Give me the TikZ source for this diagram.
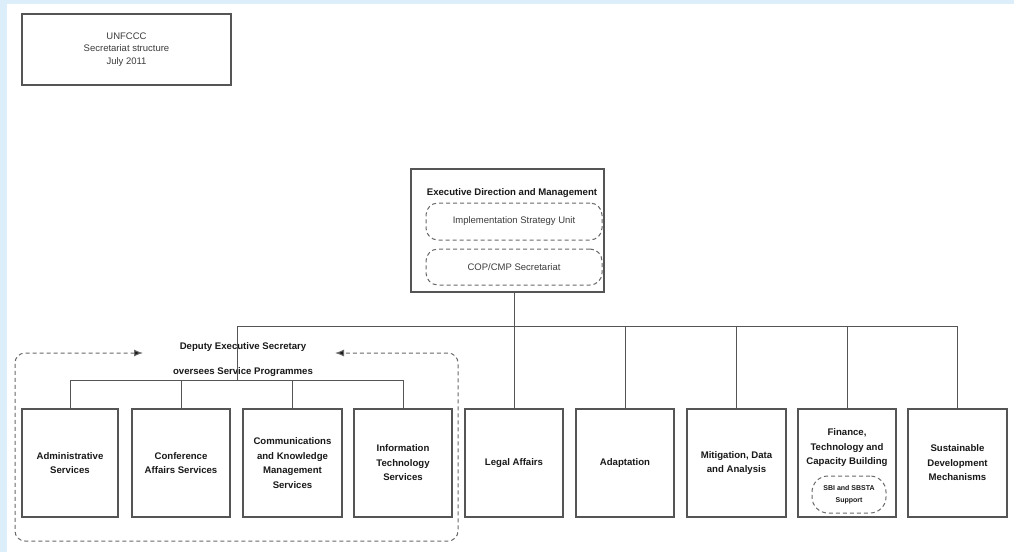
\documentclass[tikz,border=0pt]{standalone}
\usepackage{fontspec}
\setmainfont{Liberation Sans}
\usetikzlibrary{arrows.meta}
\definecolor{bgblue}{RGB}{219,238,250}
\definecolor{linec}{RGB}{85,85,85}
\definecolor{dashc}{RGB}{105,105,105}
\definecolor{txtc}{RGB}{25,25,25}
\definecolor{softtxt}{RGB}{60,60,60}
\tikzset{
  unitbox/.style={draw=linec, line width=1.3pt, fill=white, minimum height=108pt, inner sep=2pt,
    align=center, text=txtc, font=\fontsize{9.6}{14.5}\selectfont\bfseries},
  dashbox/.style={draw=dashc, line width=1pt, dash pattern=on 4pt off 3pt, rounded corners=12pt,
    align=center, text=softtxt, font=\fontsize{9.5}{12}\selectfont},
  conn/.style={draw=linec, line width=1pt},
  boldlabel/.style={text=txtc, font=\fontsize{9.6}{12}\selectfont\bfseries, inner sep=0pt}
}
\begin{document}
\begin{tikzpicture}[x=1pt,y=-1pt]
\useasboundingbox (0,0) rectangle (1014,552);
\fill[white] (0,0) rectangle (1014,552);
\fill[bgblue] (0,0) rectangle (7,552);
\fill[bgblue] (0,0) rectangle (1014,4);

% title box
\node[draw=linec, line width=1.3pt, minimum width=209pt, minimum height=71pt, align=center,
  text=softtxt, font=\fontsize{9.5}{12.5}\selectfont] (title) at (126.5,49.5)
  {UNFCCC\\Secretariat structure\\July 2011};

% executive box
\node[draw=linec, line width=1.3pt, minimum width=193pt, minimum height=123pt] (exec) at (507.5,230.5) {};
\node[boldlabel] (exectitle) at (512,193) {Executive Direction and Management};
\node[dashbox, minimum width=176pt, minimum height=37pt] (isu) at (514,221.5) {Implementation Strategy Unit};
\node[dashbox, minimum width=176pt, minimum height=36pt] (cop) at (514,267) {COP/CMP Secretariat};

% right units
\node[unitbox, minimum width=98pt] (legal) at (514,463) {Legal Affairs};
\node[unitbox, minimum width=98pt] (adapt) at (625,463) {Adaptation};
\node[unitbox, minimum width=99pt] (mitig) at (736.5,463) {Mitigation, Data\\and Analysis};
\node[unitbox, minimum width=98pt] (fin) at (847,463) {};
\node[boldlabel, align=center, font=\fontsize{9.6}{14.5}\selectfont\bfseries] (fintext) at (847,448) {Finance,\\Technology and\\Capacity Building};
\node[dashbox, minimum width=74pt, minimum height=37pt, rounded corners=16pt, text=txtc,
  font=\fontsize{7}{11.5}\selectfont\bfseries] (sbi) at (849,494.5) {SBI and SBSTA\\Support};
\node[unitbox, minimum width=99pt] (sdm) at (957.5,463) {Sustainable\\Development\\Mechanisms};

% service units
\node[unitbox, minimum width=96pt] (admin) at (70,463) {Administrative\\Services};
\node[unitbox, minimum width=98pt] (conf) at (181,463) {Conference\\Affairs Services};
\node[unitbox, minimum width=99pt] (comm) at (292.5,463) {Communications\\and Knowledge\\Management\\Services};
\node[unitbox, minimum width=98pt] (it) at (403,463) {Information\\Technology\\Services};

% deputy label
\node[boldlabel] (dep1) at (243,347) {Deputy Executive Secretary};
\node[boldlabel] (dep2) at (243,372) {oversees Service Programmes};

% bus coordinates
\coordinate (busL) at (237,326);
\coordinate (subL) at (237,380);

% connectors
\draw[conn] (legal.north |- exec.south) -- (legal.north |- busL);
\draw[conn] (busL) -- (sdm.north |- busL);
\draw[conn] (legal.north) -- (legal.north |- busL);
\draw[conn] (adapt.north) -- (adapt.north |- busL);
\draw[conn] (mitig.north) -- (mitig.north |- busL);
\draw[conn] (fin.north) -- (fin.north |- busL);
\draw[conn] (sdm.north) -- (sdm.north |- busL);
\draw[conn] (busL) -- (subL);
\draw[conn] (admin.north |- subL) -- (it.north |- subL);
\draw[conn] (admin.north) -- (admin.north |- subL);
\draw[conn] (conf.north) -- (conf.north |- subL);
\draw[conn] (comm.north) -- (comm.north |- subL);
\draw[conn] (it.north) -- (it.north |- subL);

% service programmes dashed frame
\coordinate (arrL) at (143,353);
\coordinate (arrR) at (335,353);
\draw[draw=dashc, line width=1pt, dash pattern=on 4pt off 3pt, rounded corners=10pt,
  {Latex[length=9pt,width=7pt,fill=txtc]}-{Latex[length=9pt,width=7pt,fill=txtc]}]
  (arrL) -- (15,353) -- (15,541) -- (458,541) -- (458,353) -- (arrR);
\end{tikzpicture}
\end{document}
